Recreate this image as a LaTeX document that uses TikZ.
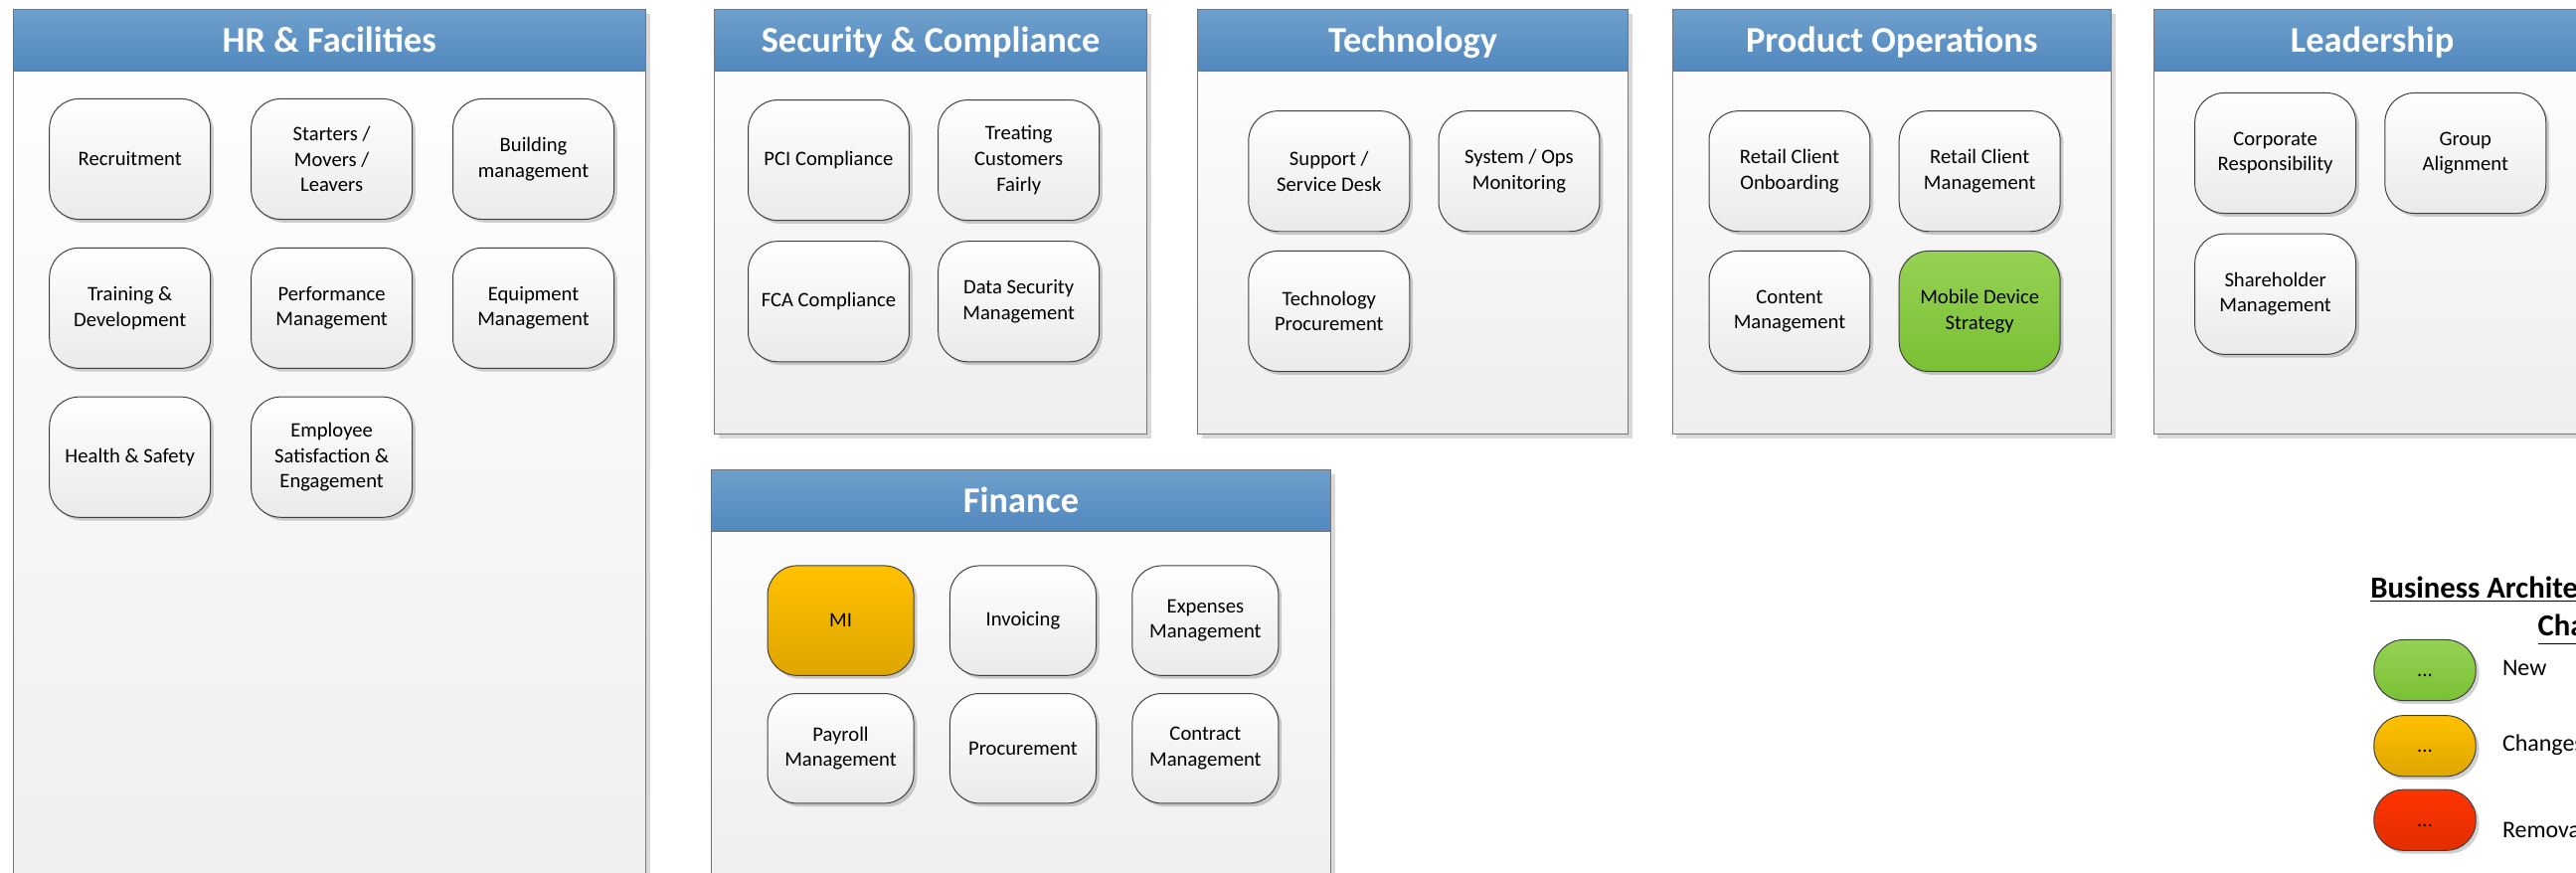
\documentclass[tikz,border=0pt]{standalone}
\usepackage{fontspec}
\setmainfont{Carlito}
\usepackage{xcolor}
\usepackage{tikz}
\usetikzlibrary{positioning, shadows}
\definecolor{hdrtop}{RGB}{110,159,204}
\definecolor{hdrbot}{RGB}{82,136,190}
\definecolor{panelbot}{RGB}{238,238,238}
\definecolor{capbot}{RGB}{234,234,234}
\definecolor{edgegray}{RGB}{118,118,118}
\definecolor{greentop}{RGB}{150,210,84}
\definecolor{greenbot}{RGB}{122,192,52}
\definecolor{ambertop}{RGB}{255,193,0}
\definecolor{amberbot}{RGB}{222,166,0}
\definecolor{redtop}{RGB}{255,52,0}
\definecolor{redbot}{RGB}{226,46,0}
\tikzstyle{panelbox} = [rectangle, draw=edgegray, line width=0.7pt, top color=white, bottom color=panelbot, anchor=north west, inner sep=0pt, outer sep=0pt, drop shadow={shadow xshift=2.5pt, shadow yshift=-2.5pt, fill=black, opacity=0.15}]
\tikzstyle{panelhead} = [rectangle, draw=edgegray, line width=0.7pt, top color=hdrtop, bottom color=hdrbot, anchor=north west, inner sep=0pt, outer sep=0pt, minimum height=37.4pt, text height=14.2pt, text depth=0pt, text=white, font=\fontsize{22}{26}\selectfont\bfseries]
\tikzstyle{capbox} = [rectangle, rounded corners=18pt, draw=black!75, line width=0.6pt, top color=white, bottom color=capbot, minimum width=98pt, minimum height=73.3pt, inner sep=2pt, outer sep=0pt, align=center, font=\fontsize{12.5}{15.5}\selectfont, drop shadow={shadow xshift=2pt, shadow yshift=-2pt, fill=black, opacity=0.18}]
\tikzstyle{fincapbox} = [minimum width=89pt, minimum height=66.8pt]
\tikzstyle{newcap} = [top color=greentop, bottom color=greenbot]
\tikzstyle{changedcap} = [top color=ambertop, bottom color=amberbot]
\tikzstyle{removedcap} = [top color=redtop, bottom color=redbot]
\tikzstyle{keypill} = [minimum width=62pt, minimum height=37pt, rounded corners=18pt, text height=8pt, text depth=0pt]
\tikzstyle{keytitle} = [anchor=base west, align=right, inner sep=0pt, font=\fontsize{18.6}{23}\selectfont\bfseries]
\tikzstyle{keylabel} = [anchor=base west, inner sep=0pt, font=\fontsize{14.5}{17}\selectfont]

\begin{document}
\begin{tikzpicture}[x=1pt, y=-1pt, node distance=17.7pt]
\useasboundingbox (0,0) rectangle (1568,531);

% panels with their headers
\node[panelbox, minimum width=385pt, minimum height=560pt] (hr) at (8,6) {};
\node[panelhead, minimum width=385pt] (hrhead) at (hr.north west) {HR \& Facilities};
\node[panelbox, minimum width=263pt, minimum height=258.3pt] (security) at (435,6) {};
\node[panelhead, minimum width=263pt] (securityhead) at (security.north west) {Security \& Compliance};
\node[panelbox, minimum width=262pt, minimum height=258.3pt] (tech) at (729,6) {};
\node[panelhead, minimum width=262pt] (techhead) at (tech.north west) {Technology};
\node[panelbox, minimum width=267pt, minimum height=258.3pt] (prodops) at (1018,6) {};
\node[panelhead, minimum width=267pt] (prodopshead) at (prodops.north west) {Product Operations};
\node[panelbox, minimum width=266pt, minimum height=258.3pt] (leader) at (1311,6) {};
\node[panelhead, minimum width=266pt] (leaderhead) at (leader.north west) {Leadership};
\node[panelbox, minimum width=377pt, minimum height=260pt] (finance) at (433,286) {};
\node[panelhead, minimum width=377pt] (financehead) at (finance.north west) {Finance};

% HR & Facilities
\node[capbox] (recruit) at (79.1,96.8) {Recruitment};
\node[capbox, right=24.8pt of recruit] (starters) {Starters /\\Movers /\\Leavers};
\node[capbox, right=24.8pt of starters] (building) {Building\\management};
\node[capbox, below=17.4pt of recruit] (training) {Training \&\\Development};
\node[capbox, below=17.4pt of starters] (perform) {Performance\\Management};
\node[capbox, below=17.4pt of building] (equip) {Equipment\\Management};
\node[capbox, below=17.4pt of training] (health) {Health \& Safety};
\node[capbox, below=17.4pt of perform] (employee) {Employee\\Satisfaction \&\\Engagement};

% Security & Compliance
\node[capbox] (pci) at (504.4,97.5) {PCI Compliance};
\node[capbox, right=of pci] (tcf) {Treating\\Customers\\Fairly};
\node[capbox, below=12.7pt of pci] (fca) {FCA Compliance};
\node[capbox, below=12.7pt of tcf] (datasec) {Data Security\\Management};

% Technology
\node[capbox] (support) at (809,104.2) {Support /\\Service Desk};
\node[capbox, right=of support] (sysops) {System / Ops\\Monitoring};
\node[capbox, below=11.9pt of support] (techproc) {Technology\\Procurement};

% Product Operations
\node[capbox] (onboard) at (1089.3,104.2) {Retail Client\\Onboarding};
\node[capbox, right=of onboard] (clientmgmt) {Retail Client\\Management};
\node[capbox, below=11.9pt of onboard] (content) {Content\\Management};
\node[capbox, newcap, below=11.9pt of clientmgmt] (mobile) {Mobile Device\\Strategy};

% Leadership
\node[capbox] (corporate) at (1385,93.2) {Corporate\\Responsibility};
\node[capbox, right=of corporate] (group) {Group\\Alignment};
\node[capbox, below=12.5pt of corporate] (sharehold) {Shareholder\\Management};

% Finance
\node[capbox, fincapbox, changedcap] (mi) at (511.7,377.7) {MI};
\node[capbox, fincapbox, right=22pt of mi] (invoice) {Invoicing};
\node[capbox, fincapbox, right=22pt of invoice] (expenses) {Expenses\\Management};
\node[capbox, fincapbox, below=11pt of mi] (payroll) {Payroll\\Management};
\node[capbox, fincapbox, below=11pt of invoice] (procure) {Procurement};
\node[capbox, fincapbox, below=11pt of expenses] (contract) {Contract\\Management};

% key
\node[keytitle] (keyhead) at (1442.7,387) {\underline{Business Architecture}\\\underline{Changes}};
\node[capbox, keypill, newcap] (keynew) at (1476,407.9) {...};
\node[capbox, keypill, changedcap] (keychanged) at (1476,454) {...};
\node[capbox, keypill, removedcap] (keyremoved) at (1476,499.1) {...};
\node[keylabel] (newlabel) at (1523,411.3) {New};
\node[keylabel] (changedlabel) at (1523,457.3) {Changes};
\node[keylabel] (removedlabel) at (1523,510) {Removal};
\end{tikzpicture}
\end{document}
